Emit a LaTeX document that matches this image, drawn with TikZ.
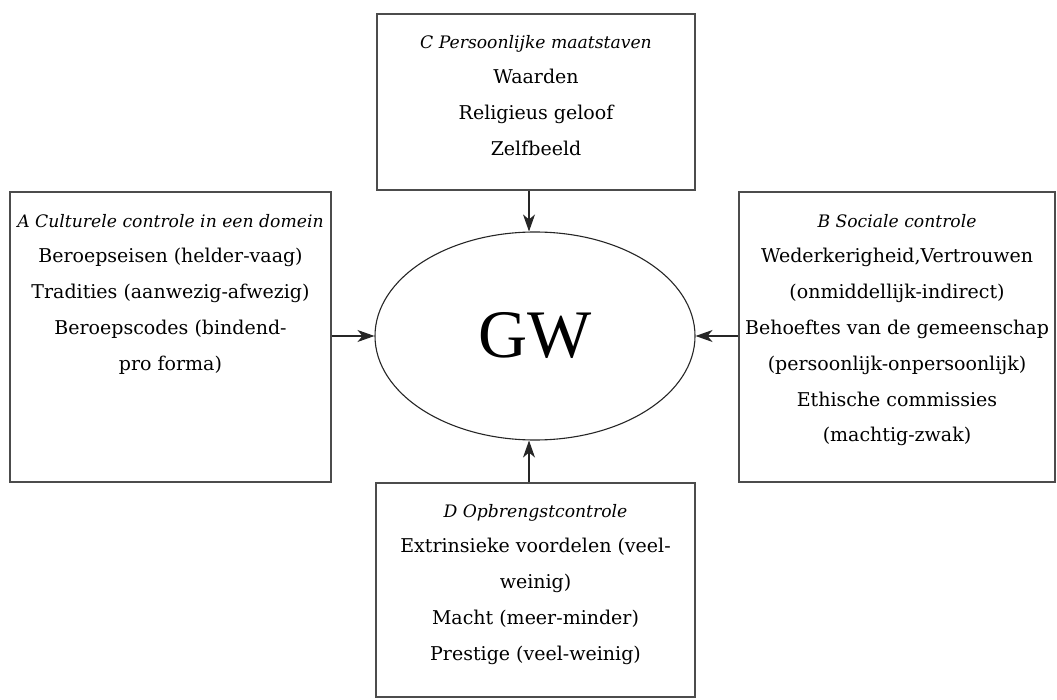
\documentclass[tikz,border=0pt]{standalone}
\usepackage{fontspec}
\setmainfont{DejaVu Serif}
\newfontfamily\gwfont{Liberation Serif}
\usetikzlibrary{shapes.geometric,arrows.meta}
\newcommand{\ttl}[1]{{\fontsize{17.2}{35.5}\selectfont\itshape #1}}
\tikzset{
  boxnode/.style={draw=black!70, line width=1.4pt, rectangle, inner sep=0pt},
  boxtext/.style={anchor=north, inner sep=0pt, align=center,
    font=\fontsize{19}{35.8}\selectfont},
  gwnode/.style={draw=black!85, line width=1.1pt, ellipse, inner sep=0pt,
    minimum width=320pt, minimum height=208pt,
    font=\gwfont\fontsize{68}{68}\selectfont},
  conn/.style={draw=black!85, line width=1.1pt,
    -{Stealth[length=17pt,width=12pt,inset=5pt]}}
}
\begin{document}
\begin{tikzpicture}[x=1pt,y=-1pt]
\useasboundingbox (0,0) rectangle (1057,700);
\node[boxnode, minimum width=321pt, minimum height=290pt] (A) at (170.5,337) {};
\node[boxnode, minimum width=316pt, minimum height=290pt] (B) at (897,337) {};
\node[boxnode, minimum width=318pt, minimum height=176pt] (C) at (536,102) {};
\node[boxnode, minimum width=319pt, minimum height=214pt] (D) at (535.5,590) {};
\node[gwnode] (E) at (535,336) {GW};

\node[boxtext] (At) at ([yshift=-22.5pt]A.north) {\ttl{A Culturele controle in een domein}\\
Beroepseisen (helder-vaag)\\Tradities (aanwezig-afwezig)\\Beroepscodes (bindend-\\pro forma)};
\node[boxtext] (Bt) at ([yshift=-22.5pt]B.north) {\ttl{B Sociale controle}\\
Wederkerigheid,Vertrouwen\\(onmiddellijk-indirect)\\Behoeftes van de gemeenschap\\(persoonlijk-onpersoonlijk)\\Ethische commissies\\(machtig-zwak)};
\node[boxtext] (Ct) at ([yshift=-21.5pt]C.north) {\ttl{C Persoonlijke maatstaven}\\
Waarden\\Religieus geloof\\Zelfbeeld};
\node[boxtext] (Dt) at ([yshift=-21.5pt]D.north) {\ttl{D Opbrengstcontrole}\\
Extrinsieke voordelen (veel-\\weinig)\\Macht (meer-minder)\\Prestige (veel-weinig)};

\coordinate (et) at ([xshift=-6pt]E.north);
\coordinate (eb) at ([xshift=-6pt]E.south);
\draw[conn] (A.east |- E.west) -- (E.west);
\draw[conn] (B.west |- E.east) -- (E.east);
\draw[conn] (C.south -| et) -- (et);
\draw[conn] (D.north -| eb) -- (eb);
\end{tikzpicture}
\end{document}
